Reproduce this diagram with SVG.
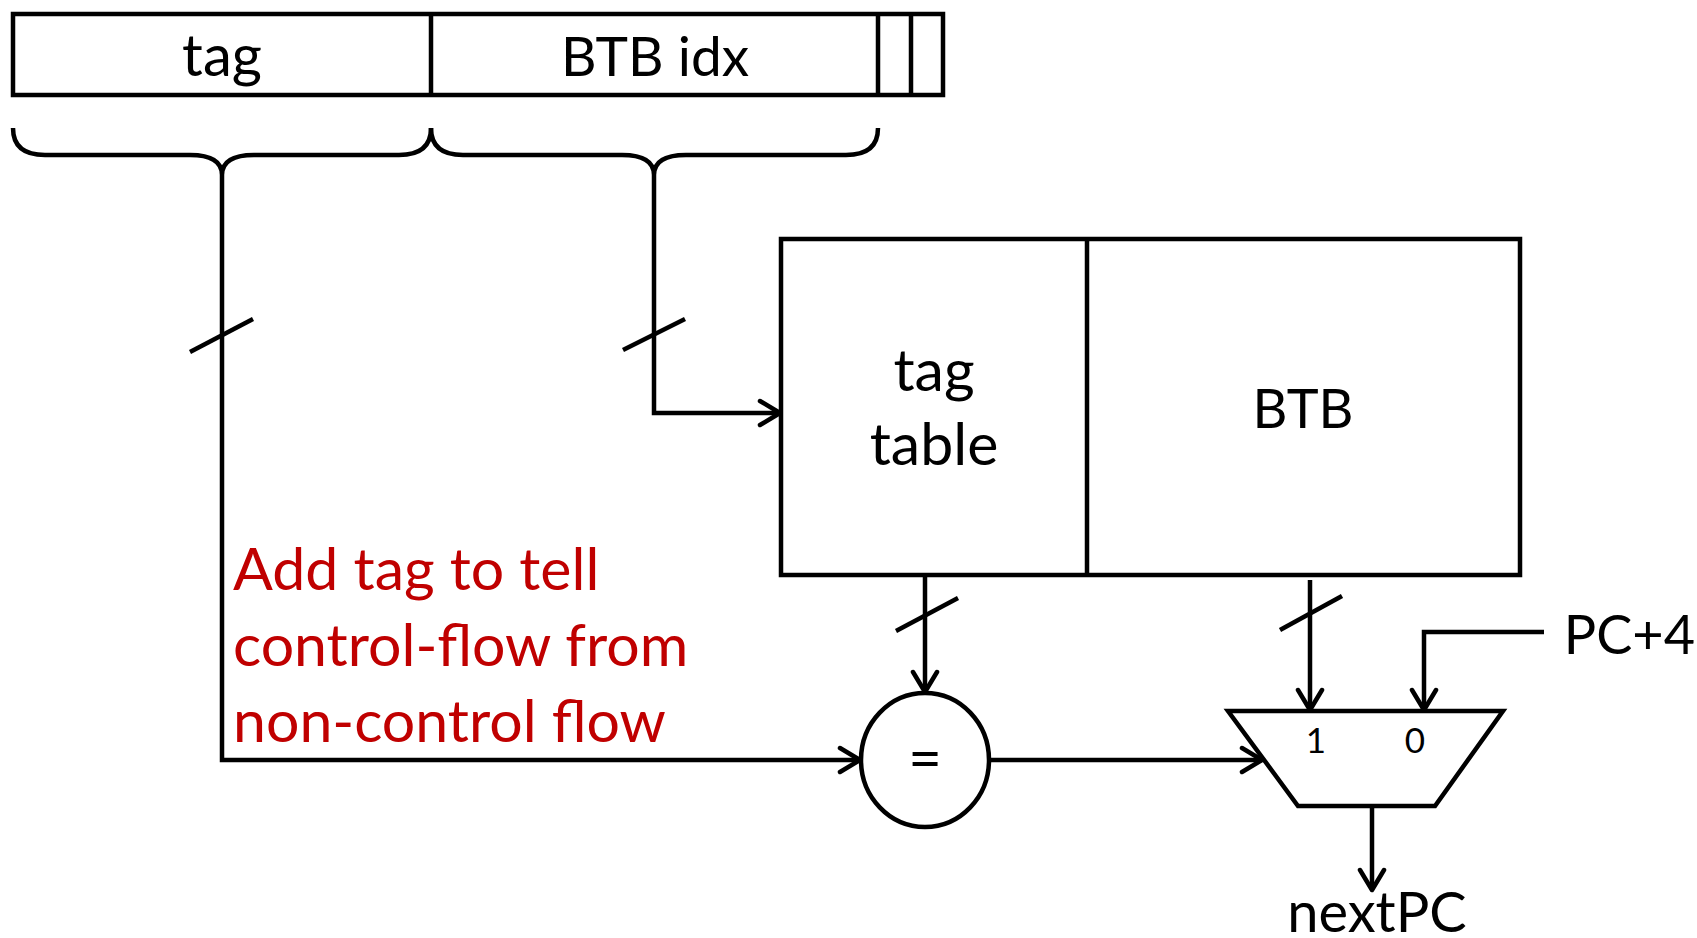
<svg xmlns="http://www.w3.org/2000/svg" width="1697" height="938" viewBox="0 0 1697 938">
<style>
.box{fill:#fff;stroke:#000;stroke-width:4.5}
.ln{fill:none;stroke:#000;stroke-width:4.5}
.t{font-family:Lato,"Open Sans",sans-serif;fill:#000}
.red{font-family:Lato,"Open Sans",sans-serif;fill:#C00000;font-size:59px}
</style>
<defs>
<marker id="ah" markerUnits="userSpaceOnUse" markerWidth="30" markerHeight="30" refX="24" refY="15" orient="auto" viewBox="0 0 30 30">
<path d="M4,3 L24,15 L4,27" fill="none" stroke="#000" stroke-width="4.5" stroke-linecap="round" stroke-linejoin="round"/>
</marker>
</defs>
<g id="address">
<rect class="box" x="13" y="14" width="930" height="81"/>
<line class="ln" x1="431" y1="14" x2="431" y2="95"/>
<line class="ln" x1="878" y1="14" x2="878" y2="95"/>
<line class="ln" x1="911" y1="14" x2="911" y2="95"/>
<text class="t" x="222" y="76" font-size="58" text-anchor="middle">tag</text>
<text class="t" x="655" y="76" font-size="55" text-anchor="middle">BTB idx</text>
</g>
<g id="braces">
<path class="ln" d="M13,128 Q13,155 45,155 L190,155 Q222,155 222,175 Q222,155 254,155 L399,155 Q431,155 431,128"/>
<path class="ln" d="M431,128 Q431,155 463,155 L622,155 Q654,155 654,175 Q654,155 686,155 L846,155 Q878,155 878,128"/>
</g>
<g id="tagtable">
<rect class="box" x="781" y="239" width="739" height="336"/>
<line class="ln" x1="1087" y1="239" x2="1087" y2="575"/>
<text class="t" x="934" y="391" font-size="59" text-anchor="middle">tag</text>
<text class="t" x="934" y="465" font-size="59" text-anchor="middle">table</text>
<text class="t" x="1303" y="428" font-size="54" text-anchor="middle">BTB</text>
</g>
<g id="compare">
<ellipse class="box" cx="925" cy="760" rx="64" ry="67"/>
<text class="t" x="925" y="779" font-size="58" text-anchor="middle">=</text>
</g>
<g id="mux">
<polygon class="box" points="1228,711 1503,711 1435,806 1298,806"/>
<text class="t" x="1316" y="753" font-size="35" text-anchor="middle">1</text>
<text class="t" x="1415" y="753" font-size="35" text-anchor="middle">0</text>
</g>
<g id="labels">
<text class="red" x="233" y="590">Add tag to tell</text>
<text class="red" x="233" y="666">control-flow from</text>
<text class="red" x="233" y="742">non-control flow</text>
<text class="t" x="1695" y="654" font-size="54" text-anchor="end">PC+4</text>
<text class="t" x="1377" y="932" font-size="56" text-anchor="middle">nextPC</text>
</g>
<g id="connectors">
<path class="ln" d="M222,175 L222,760 L860,760" marker-end="url(#ah)"/>
<line class="ln" x1="190" y1="352" x2="253" y2="319"/>
<path class="ln" d="M654,175 L654,413 L780,413" marker-end="url(#ah)"/>
<line class="ln" x1="623" y1="350" x2="685" y2="319"/>
<path class="ln" d="M925,577 L925,692" marker-end="url(#ah)"/>
<line class="ln" x1="896" y1="631" x2="958" y2="598"/>
<path class="ln" d="M989,760 L1262,760" marker-end="url(#ah)"/>
<path class="ln" d="M1310,580 L1310,710" marker-end="url(#ah)"/>
<line class="ln" x1="1280" y1="630" x2="1342" y2="596"/>
<path class="ln" d="M1544,632 L1424,632 L1424,710" marker-end="url(#ah)"/>
<path class="ln" d="M1372,806 L1372,890" marker-end="url(#ah)"/>
</g>
</svg>
